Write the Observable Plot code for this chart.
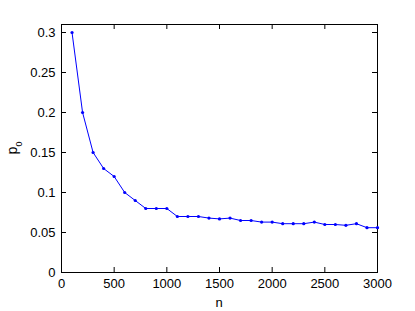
<!DOCTYPE html>
<html>
<head>
<meta charset="utf-8">
<script src="https://cdn.jsdelivr.net/npm/d3@7"></script>
<script src="https://cdn.jsdelivr.net/npm/@observablehq/plot@0.6"></script>
<style>
  html, body { margin: 0; padding: 0; background: #fff; }
  #chart { width: 415px; height: 311px; }
  svg text { font-family: "Liberation Sans", Arial, Helvetica, sans-serif; }
</style>
</head>
<body>
<div id="chart"></div>
<script>
const nValues = [100,200,300,400,500,600,700,800,900,1000,1100,1200,1300,1400,1500,1600,1700,1800,1900,2000,2100,2200,2300,2400,2500,2600,2700,2800,2900,3000];
const p0Values = [0.30,0.20,0.15,0.13,0.12,0.10,0.09,0.08,0.08,0.08,0.07,0.07,0.07,0.068,0.067,0.068,0.065,0.065,0.063,0.063,0.061,0.061,0.061,0.063,0.06,0.06,0.059,0.061,0.056,0.056];
const xTicks = [0,500,1000,1500,2000,2500,3000];
const xTickLabels = ["0","500","1000","1500","2000","2500","3000"];
const yTicks = [0,0.05,0.1,0.15,0.2,0.25,0.3];
const yTickLabels = ["0","0.05","0.1","0.15","0.2","0.25","0.3"];
const xLabel = "n";
const yLabelMain = "p";
const yLabelSub = "0";

const data = nValues.map((n, i) => ({n, p: p0Values[i]}));

const W = 415, H = 311;
const mL = 61, mR = 38, mT = 24, mB = 39;
const fw = W - mL - mR, fh = H - mT - mB;
const tl = 5;

const chart = Plot.plot({
  width: W, height: H,
  marginLeft: mL, marginRight: mR, marginTop: mT, marginBottom: mB,
  style: {fontSize: "13px", fontFamily: "Liberation Sans, Arial, sans-serif", background: "#fff", color: "#000"},
  x: {domain: [0, 3000], label: null},
  y: {domain: [0, 0.31], label: null},
  marks: [
    Plot.frame({stroke: "#000", strokeWidth: 1}),
    Plot.axisX(xTicks, {tickSize: 0, tickPadding: 6, tickFormat: (d, i) => xTickLabels[i], fontSize: 13}),
    Plot.axisY(yTicks, {tickSize: 0, tickPadding: 6, tickFormat: (d, i) => yTickLabels[i], fontSize: 13}),
    Plot.tickX(xTicks, {x: d => d, insetTop: fh - tl, stroke: "#000"}),
    Plot.tickX(xTicks, {x: d => d, insetBottom: fh - tl, stroke: "#000"}),
    Plot.tickY(yTicks, {y: d => d, insetRight: fw - tl, stroke: "#000"}),
    Plot.tickY(yTicks, {y: d => d, insetLeft: fw - tl, stroke: "#000"}),
    Plot.line(data, {x: "n", y: "p", stroke: "#0000ff", strokeWidth: 1}),
    Plot.dot(data, {x: "n", y: "p", r: 1.6, fill: "#0000ff", stroke: "none"})
  ]
});

const svg = d3.select(chart);
svg.append("text")
  .attr("x", mL + fw / 2).attr("y", H - 4)
  .attr("text-anchor", "middle").attr("font-size", 13).attr("fill", "#000")
  .text(xLabel);
const yl = svg.append("text")
  .attr("transform", `translate(17,${mT + fh / 2}) rotate(-90)`)
  .attr("text-anchor", "middle").attr("font-size", 14).attr("fill", "#000");
yl.append("tspan").text(yLabelMain);
yl.append("tspan").attr("baseline-shift", "sub").attr("font-size", 9).text(yLabelSub);

document.getElementById("chart").appendChild(chart);
</script>
</body>
</html>
